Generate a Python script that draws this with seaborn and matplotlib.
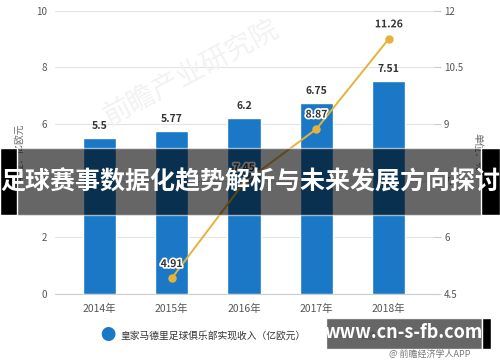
import numpy as np
import matplotlib
matplotlib.use("Agg")
import matplotlib.pyplot as plt
import matplotlib.patheffects as pe
import seaborn as sns

# data
years = ["2014年", "2015年", "2016年", "2017年", "2018年"]
revenue = [5.5, 5.77, 6.2, 6.75, 7.51]          # 亿欧元, left axis
growth_years = ["2015年", "2016年", "2017年", "2018年"]
growth = [4.91, 7.45, 8.87, 11.26]               # %, right axis
left_ticks = [0, 2, 4, 6, 8, 10]
right_ticks = [4.5, 6, 7.5, 9, 10.5, 12]

bar_color = "#1a78c6"
line_color = "#e6b23c"
title = "足球赛事数据化趋势解析与未来发展方向探讨"

sns.set_style("white")
plt.rcParams["font.family"] = ["Noto Sans CJK SC", "DejaVu Sans"]

fig = plt.figure(figsize=(5, 3.62), dpi=100)
ax = fig.add_axes([0.11, 0.188, 0.756, 0.782])

sns.barplot(x=years, y=revenue, order=years, color=bar_color, width=0.46,
            saturation=1, ax=ax, zorder=3)
ax.set_ylim(0, 10)
ax.set_xlim(-0.61, 4.61)
ax.set_yticks(left_ticks)
ax.set_yticklabels([str(t) for t in left_ticks])
ax.grid(axis="y", color="#e3e3e3", linewidth=0.8, zorder=0)
ax.set_axisbelow(True)
for s in ["top", "right", "left"]:
    ax.spines[s].set_visible(False)
ax.spines["bottom"].set_color("#cccccc")
ax.tick_params(axis="y", length=0, labelsize=7, labelcolor="#555555", pad=6)
ax.tick_params(axis="x", length=4, color="#cccccc", labelsize=7.5,
               labelcolor="#555555", pad=3)
ax.set_xlabel("")
ax.set_ylabel("单位：亿欧元", fontsize=7, color="#666666", labelpad=8)

for i, v in enumerate(revenue):
    ax.text(i, v + 0.25, f"{v:g}", ha="center", va="bottom", fontsize=7.5,
            fontweight="bold", color="#333333")

ax2 = ax.twinx()
sns.pointplot(x=growth_years, y=growth, order=years, color=line_color,
              markers="o", markersize=5, linewidth=1.4, ax=ax2)
ax2.set_ylim(4.5, 12)
ax2.set_xlim(-0.61, 4.61)
ax2.set_yticks(right_ticks)
ax2.set_yticklabels([f"{t:g}" for t in right_ticks])
for s in ["top", "right", "left", "bottom"]:
    ax2.spines[s].set_visible(False)
ax2.tick_params(axis="y", length=6, color="#cccccc", labelsize=7,
                labelcolor="#555555", pad=2)
ax2.set_ylabel("单位：%", fontsize=7, color="#666666", rotation=270, labelpad=14)
ax2.set_xlabel("")

for x, v in zip(growth_years, growth):
    i = years.index(x)
    ax2.text(i, v + 0.25, f"{v:g}", ha="center", va="bottom", fontsize=7.5,
             fontweight="bold", color="#333333",
             path_effects=[pe.withStroke(linewidth=2.5, foreground="white")])

# faint watermark behind the plot
ax.text(0.36, 0.78, "前瞻产业研究院", transform=ax.transAxes, fontsize=20,
        color="#f2f2f2", rotation=28, ha="center", va="center", zorder=1)

# legend
fig.text(0.215, 0.073, "●", fontsize=11, color=bar_color, ha="center", va="center")
fig.text(0.24, 0.073, "皇家马德里足球俱乐部实现收入（亿欧元）", fontsize=7,
         color="#333333", ha="left", va="center")
fig.add_artist(plt.Line2D([0.66, 0.70], [0.073, 0.073], color=line_color,
                          linewidth=1.4, transform=fig.transFigure))
fig.text(0.715, 0.073, "增速（%）", fontsize=7, color="#333333", ha="left", va="center")

# title banner over the middle
fig.add_artist(plt.Rectangle((0, 1 - 215 / 362), 1, 67 / 362, transform=fig.transFigure,
                             facecolor="#000000", alpha=0.6, zorder=10))
fig.add_artist(plt.Rectangle((0, 1 - 215 / 362), 17 / 500, 67 / 362, transform=fig.transFigure,
                             facecolor="#000000", zorder=11))
fig.add_artist(plt.Rectangle((481 / 500, 1 - 215 / 362), 19 / 500, 67 / 362,
                             transform=fig.transFigure, facecolor="#000000", zorder=11))
fig.text(0.5, 1 - 182 / 362, title, fontsize=18, fontweight="bold", color="white",
         ha="center", va="center", zorder=12)

# site stamp bottom right
fig.add_artist(plt.Rectangle((326 / 500, 1 - 349 / 362), 156 / 500, 31 / 362,
                             transform=fig.transFigure, facecolor="#555555", alpha=0.9, zorder=10))
fig.add_artist(plt.Rectangle((482 / 500, 1 - 349 / 362), 9 / 500, 31 / 362,
                             transform=fig.transFigure, facecolor="#000000", zorder=11))
fig.text(404 / 500, 1 - 333 / 362, "www.cn-s-fb.com", fontsize=13, fontweight="bold",
         color="white", ha="center", va="center", zorder=12)
fig.text(430 / 500, 1 - 354 / 362, "@ 前瞻经济学人APP", fontsize=6.5, color="#777777",
         ha="center", va="center", zorder=12)

fig.savefig("out.png", dpi=100)
